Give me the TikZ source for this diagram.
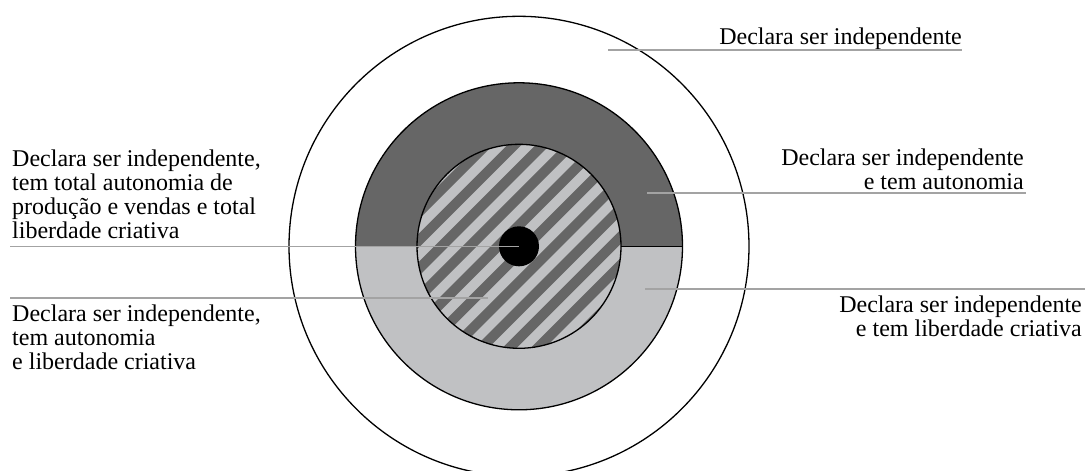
\documentclass[tikz,border=0pt]{standalone}
\usepackage{fontspec}
\setmainfont{Liberation Serif}
\definecolor{darkfill}{HTML}{666666}
\definecolor{lightfill}{HTML}{C0C1C3}
\definecolor{leadergray}{HTML}{A3A3A3}
\tikzset{
  ringline/.style={draw=black, line width=1.3pt},
  leader/.style={draw=leadergray, line width=1.6pt},
  stripeline/.style={draw=darkfill, line width=10pt},
  lbl/.style={inner sep=0pt, font=\fontsize{24}{24}\selectfont},
}
\begin{document}
\begin{tikzpicture}[x=1pt, y=-1pt]
\useasboundingbox (0,0) rectangle (1085,471);
\clip (0,0) rectangle (1085,471);
\fill[white] (0,0) rectangle (1085,471);
\coordinate (c) at (519,246.3);
% outer circle
\draw[ringline, fill=white] (c) circle[radius=230];
% ring halves (y axis points down: negative angles are the upper half)
\fill[darkfill] ([xshift=-163.5pt]c) arc[start angle=-180, end angle=0, radius=163.5] -- cycle;
\fill[lightfill] ([xshift=-163.5pt]c) arc[start angle=180, end angle=0, radius=163.5] -- cycle;
% hatched circle
\fill[lightfill] (c) circle[radius=102];
\begin{scope}
  \clip (c) circle[radius=102];
  \foreach \k in {-5,...,8} {
    \pgfmathsetmacro\cc{716+28.3*\k}
    \draw[stripeline] ({\cc-120},120) -- ({\cc-380},380);
  }
\end{scope}
\draw[ringline] (c) circle[radius=102];
\coordinate (divA) at (621,246.3);
\coordinate (divB) at (682.5,246.3);
\draw[ringline] (divA) -- (divB);
\draw[ringline] (c) circle[radius=163.5];
% black dot
\fill[black] (c) circle[radius=20];
% labels
\node[lbl, anchor=base east] (t1) at (962,44) {Declara ser independente};
\node[lbl, anchor=north east, align=right] (t2) at (1024,148.6) {Declara ser independente\\e tem autonomia};
\node[lbl, anchor=north east, align=right] (t3) at (1082,295.6) {Declara ser independente\\e tem liberdade criativa};
\node[lbl, anchor=north west, align=left] (t4) at (12,149.6) {Declara ser independente,\\tem total autonomia de\\produção e vendas e total\\liberdade criativa};
\node[lbl, anchor=north west, align=left] (t5) at (12,304.6) {Declara ser independente,\\tem autonomia\\e liberdade criativa};
% leaders
\coordinate (l1a) at (608,50);  \coordinate (l1b) at (962,50);
\coordinate (l2a) at (647,193); \coordinate (l2b) at (1026,193);
\coordinate (l3a) at (645,289); \coordinate (l3b) at (1085,289);
\coordinate (l4a) at (10,246.5); \coordinate (l4b) at (519,246.5);
\coordinate (l5a) at (10,298);  \coordinate (l5b) at (488,298);
\draw[leader] (l1a) -- (l1b);
\draw[leader] (l2a) -- (l2b);
\draw[leader] (l3a) -- (l3b);
\draw[leader] (l4a) -- (l4b);
\draw[leader] (l5a) -- (l5b);
\end{tikzpicture}
\end{document}
